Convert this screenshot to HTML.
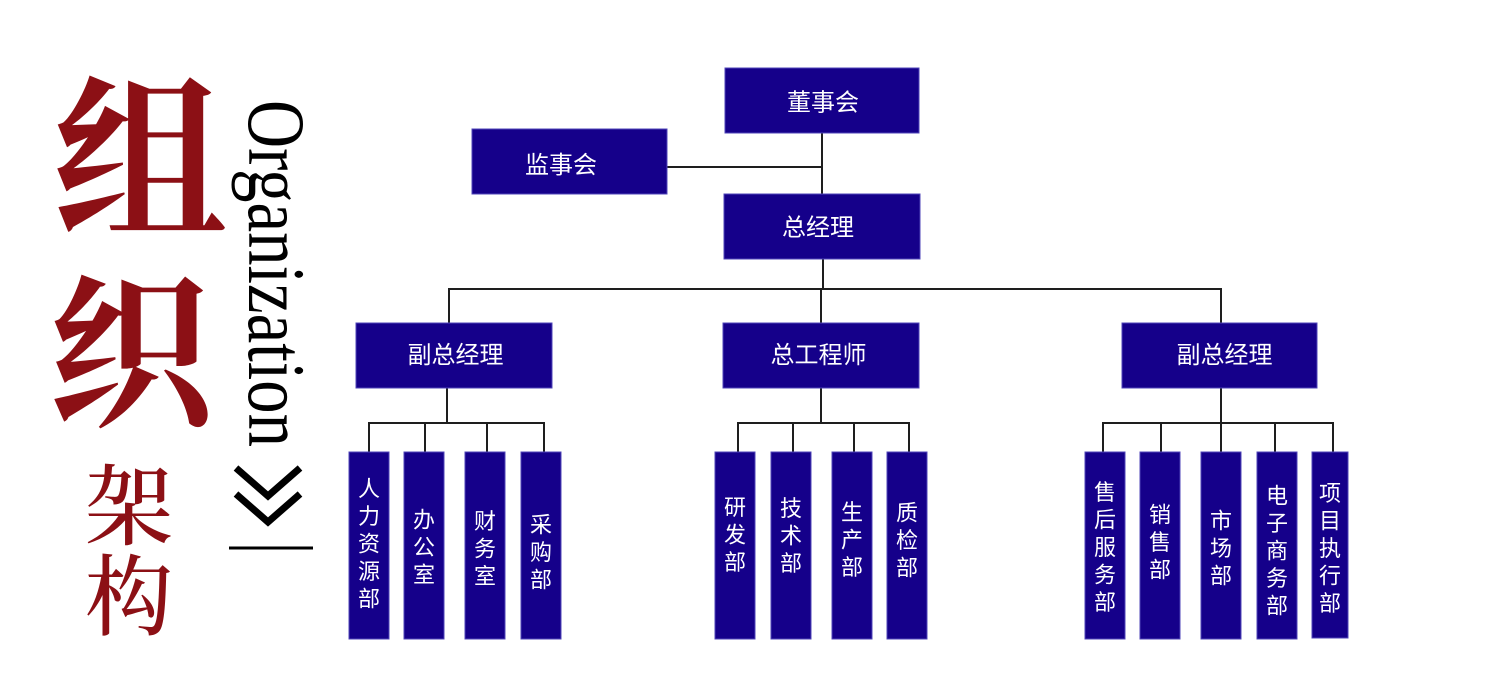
<!DOCTYPE html>
<html>
<head>
<meta charset="utf-8">
<style>
  html,body{margin:0;padding:0;background:#fff;}
  body{width:1485px;height:699px;overflow:hidden;}
  svg{display:block;}
  .bx{fill:#15008a;stroke:#4f44b8;stroke-width:1;}
  .ln{stroke:#1e1e1e;stroke-width:2;fill:none;}
  .t{fill:#fff;font-family:"Liberation Sans","Noto Sans CJK SC",sans-serif;font-size:24px;text-anchor:middle;}
  .v{fill:#fff;font-family:"Liberation Sans","Noto Sans CJK SC",sans-serif;font-size:22px;text-anchor:middle;}
  .cal{fill:#8c1015;font-family:"Noto Serif CJK SC","WenQuanYi Zen Hei",serif;font-weight:700;text-anchor:middle;}
  .song{fill:#8c1015;font-family:"Noto Serif CJK SC",serif;font-weight:500;text-anchor:middle;}
</style>
</head>
<body>
<svg width="1485" height="699" viewBox="0 0 1485 699" xmlns="http://www.w3.org/2000/svg">
  <!-- Left title -->
  <text class="cal" x="140" y="223" font-size="175">组</text>
  <text class="cal" x="130" y="414" font-size="165">织</text>
  <text class="song" x="129" y="538" font-size="88">架</text>
  <text class="song" x="129" y="628" font-size="88">构</text>

  <text transform="translate(249,100) rotate(90)" x="0" y="0" font-family="Liberation Serif, serif" font-size="82" fill="#000" textLength="347" lengthAdjust="spacingAndGlyphs">Organization</text>
  <polyline points="236,468 268,496 300,468" fill="none" stroke="#000" stroke-width="7"/>
  <polyline points="236,494 268,522 300,494" fill="none" stroke="#000" stroke-width="7"/>
  <line x1="229" y1="548" x2="313" y2="548" stroke="#000" stroke-width="3"/>

  <!-- connectors -->
  <line class="ln" x1="822" y1="133" x2="822" y2="194"/>
  <line class="ln" x1="667" y1="167" x2="822" y2="167"/>
  <line class="ln" x1="823" y1="259" x2="823" y2="289"/>
  <line class="ln" x1="448" y1="289" x2="1222" y2="289"/>
  <line class="ln" x1="449" y1="289" x2="449" y2="323"/>
  <line class="ln" x1="821" y1="289" x2="821" y2="323"/>
  <line class="ln" x1="1221" y1="289" x2="1221" y2="323"/>

  <line class="ln" x1="447" y1="388" x2="447" y2="423"/>
  <line class="ln" x1="368" y1="423" x2="545" y2="423"/>
  <line class="ln" x1="369" y1="423" x2="369" y2="452"/>
  <line class="ln" x1="425" y1="423" x2="425" y2="452"/>
  <line class="ln" x1="487" y1="423" x2="487" y2="452"/>
  <line class="ln" x1="544" y1="423" x2="544" y2="452"/>

  <line class="ln" x1="821" y1="388" x2="821" y2="423"/>
  <line class="ln" x1="737" y1="423" x2="910" y2="423"/>
  <line class="ln" x1="738" y1="423" x2="738" y2="452"/>
  <line class="ln" x1="793" y1="423" x2="793" y2="452"/>
  <line class="ln" x1="854" y1="423" x2="854" y2="452"/>
  <line class="ln" x1="909" y1="423" x2="909" y2="452"/>

  <line class="ln" x1="1221" y1="388" x2="1221" y2="423"/>
  <line class="ln" x1="1102" y1="423" x2="1334" y2="423"/>
  <line class="ln" x1="1103" y1="423" x2="1103" y2="452"/>
  <line class="ln" x1="1161" y1="423" x2="1161" y2="452"/>
  <line class="ln" x1="1221" y1="423" x2="1221" y2="452"/>
  <line class="ln" x1="1275" y1="423" x2="1275" y2="452"/>
  <line class="ln" x1="1333" y1="423" x2="1333" y2="452"/>

  <!-- top boxes -->
  <rect class="bx" x="725" y="68" width="194" height="65"/>
  <text class="t" x="823" y="110.6">董事会</text>
  <rect class="bx" x="472" y="129" width="195" height="65"/>
  <text class="t" x="561" y="173">监事会</text>
  <rect class="bx" x="724" y="194" width="196" height="65"/>
  <text class="t" x="818" y="235.6">总经理</text>
  <rect class="bx" x="356" y="323" width="196" height="65"/>
  <text class="t" x="455.5" y="363">副总经理</text>
  <rect class="bx" x="723" y="323" width="196" height="65"/>
  <text class="t" x="818.5" y="363">总工程师</text>
  <rect class="bx" x="1122" y="323" width="195" height="65"/>
  <text class="t" x="1224.5" y="363">副总经理</text>

  <!-- group 1 -->
  <rect class="bx" x="349" y="452" width="40" height="187"/>
  <text class="v" x="369" y="496.4"><tspan x="369">人</tspan><tspan x="369" dy="27.5">力</tspan><tspan x="369" dy="27.5">资</tspan><tspan x="369" dy="27.5">源</tspan><tspan x="369" dy="27.5">部</tspan></text>
  <rect class="bx" x="404" y="452" width="40" height="187"/>
  <text class="v" x="424" y="527.4"><tspan x="424">办</tspan><tspan x="424" dy="27.5">公</tspan><tspan x="424" dy="27.5">室</tspan></text>
  <rect class="bx" x="465" y="452" width="40" height="187"/>
  <text class="v" x="485" y="528.9"><tspan x="485">财</tspan><tspan x="485" dy="27.5">务</tspan><tspan x="485" dy="27.5">室</tspan></text>
  <rect class="bx" x="521" y="452" width="40" height="187"/>
  <text class="v" x="541" y="532.4"><tspan x="541">采</tspan><tspan x="541" dy="27.5">购</tspan><tspan x="541" dy="27.5">部</tspan></text>

  <!-- group 2 -->
  <rect class="bx" x="715" y="452" width="40" height="187"/>
  <text class="v" x="735" y="514.9"><tspan x="735">研</tspan><tspan x="735" dy="27.5">发</tspan><tspan x="735" dy="27.5">部</tspan></text>
  <rect class="bx" x="771" y="452" width="40" height="187"/>
  <text class="v" x="791" y="515.9"><tspan x="791">技</tspan><tspan x="791" dy="27.5">术</tspan><tspan x="791" dy="27.5">部</tspan></text>
  <rect class="bx" x="832" y="452" width="40" height="187"/>
  <text class="v" x="852" y="519.9"><tspan x="852">生</tspan><tspan x="852" dy="27.5">产</tspan><tspan x="852" dy="27.5">部</tspan></text>
  <rect class="bx" x="887" y="452" width="40" height="187"/>
  <text class="v" x="907" y="520.4"><tspan x="907">质</tspan><tspan x="907" dy="27.5">检</tspan><tspan x="907" dy="27.5">部</tspan></text>

  <!-- group 3 -->
  <rect class="bx" x="1085" y="452" width="40" height="187"/>
  <text class="v" x="1105" y="499.9"><tspan x="1105">售</tspan><tspan x="1105" dy="27.5">后</tspan><tspan x="1105" dy="27.5">服</tspan><tspan x="1105" dy="27.5">务</tspan><tspan x="1105" dy="27.5">部</tspan></text>
  <rect class="bx" x="1140" y="452" width="40" height="187"/>
  <text class="v" x="1160" y="522.4"><tspan x="1160">销</tspan><tspan x="1160" dy="27.5">售</tspan><tspan x="1160" dy="27.5">部</tspan></text>
  <rect class="bx" x="1201" y="452" width="40" height="187"/>
  <text class="v" x="1221" y="528.4"><tspan x="1221">市</tspan><tspan x="1221" dy="27.5">场</tspan><tspan x="1221" dy="27.5">部</tspan></text>
  <rect class="bx" x="1257" y="452" width="40" height="187"/>
  <text class="v" x="1277" y="503.4"><tspan x="1277">电</tspan><tspan x="1277" dy="27.5">子</tspan><tspan x="1277" dy="27.5">商</tspan><tspan x="1277" dy="27.5">务</tspan><tspan x="1277" dy="27.5">部</tspan></text>
  <rect class="bx" x="1312" y="452" width="36" height="186"/>
  <text class="v" x="1330" y="500.9"><tspan x="1330">项</tspan><tspan x="1330" dy="27.5">目</tspan><tspan x="1330" dy="27.5">执</tspan><tspan x="1330" dy="27.5">行</tspan><tspan x="1330" dy="27.5">部</tspan></text>
</svg>
</body>
</html>
